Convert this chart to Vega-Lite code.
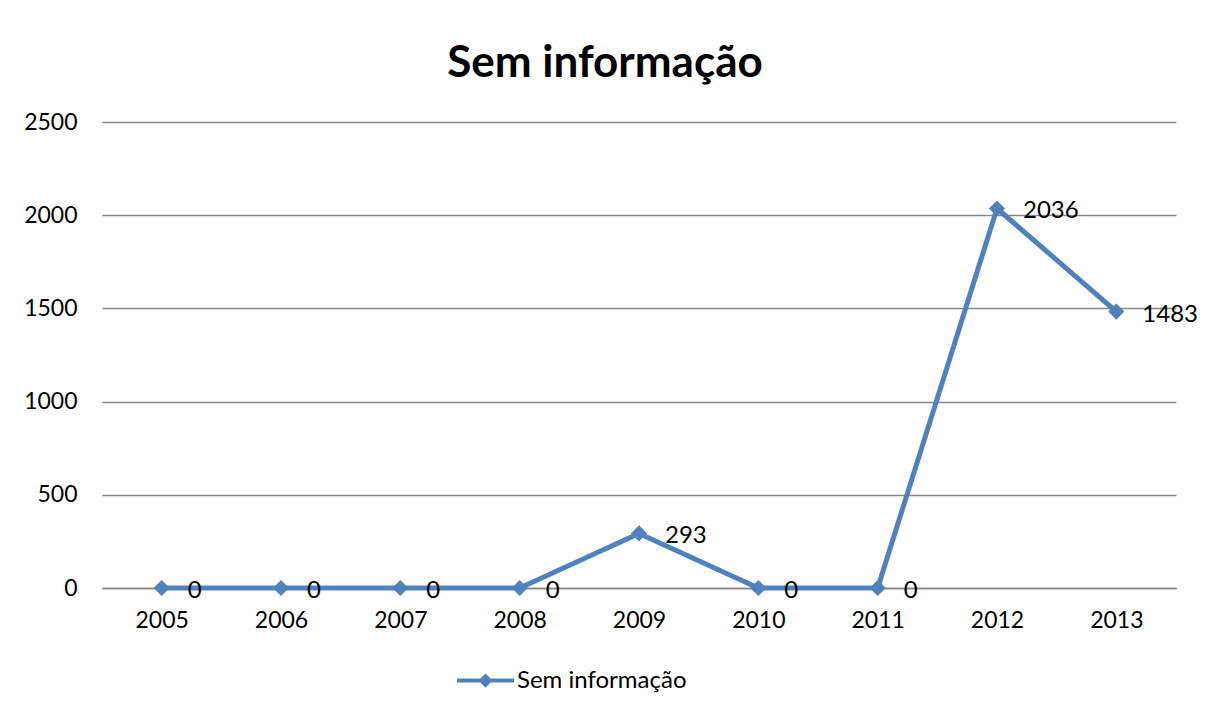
{
  "$schema": "https://vega.github.io/schema/vega-lite/v6.json",
  "width": 1074,
  "height": 466,
  "autosize": "none",
  "padding": {"left": 102, "top": 122, "right": 30, "bottom": 123},
  "background": "white",
  "config": {"font": "Lato", "view": {"stroke": null}},
  "title": {"text": "Sem informação", "fontSize": 44, "fontWeight": "bold", "font": "Lato", "color": "#000000", "anchor": "middle", "dx": -34, "offset": 25},
  "data": {"values": [
    {"ano": "2005", "valor": 0, "serie": "Sem informação"},
    {"ano": "2006", "valor": 0, "serie": "Sem informação"},
    {"ano": "2007", "valor": 0, "serie": "Sem informação"},
    {"ano": "2008", "valor": 0, "serie": "Sem informação"},
    {"ano": "2009", "valor": 293, "serie": "Sem informação"},
    {"ano": "2010", "valor": 0, "serie": "Sem informação"},
    {"ano": "2011", "valor": 0, "serie": "Sem informação"},
    {"ano": "2012", "valor": 2036, "serie": "Sem informação"},
    {"ano": "2013", "valor": 1483, "serie": "Sem informação"}
  ]},
  "encoding": {
    "x": {"field": "ano", "type": "ordinal", "scale": {"type": "point", "padding": 0.5},
      "axis": {"title": null, "labelAngle": 0, "labelFontSize": 23, "labelColor": "#000000", "labelPadding": 21, "domain": true, "domainColor": "#868686", "domainWidth": 1.5, "ticks": false, "grid": false}},
    "y": {"field": "valor", "type": "quantitative", "scale": {"domain": [0, 2500], "nice": false},
      "axis": {"title": null, "values": [0, 500, 1000, 1500, 2000, 2500], "format": "d", "labelFontSize": 23, "labelColor": "#000000", "labelPadding": 25, "domain": false, "ticks": false, "grid": true, "gridColor": "#868686", "gridWidth": 1.5}}
  },
  "layer": [
    {"mark": {"type": "line", "color": "#4F81BD", "strokeWidth": 5,
      "point": {"shape": "diamond", "size": 260, "filled": true, "color": "#4F81BD", "opacity": 1}},
      "encoding": {"color": {"field": "serie", "type": "nominal", "scale": {"range": ["#4F81BD"]},
        "legend": {"title": null, "orient": "none", "legendX": 355, "legendY": 530, "labelFontSize": 24, "labelLimit": 500, "labelColor": "#000000", "labelOffset": 3,
          "symbolType": "M -1 -0.07 L 1 -0.07 L 1 0.07 L -1 0.07 Z M -0.25 0 L 0 -0.25 L 0.25 0 L 0 0.25 Z", "symbolSize": 3249, "symbolFillColor": "#4F81BD", "symbolStrokeWidth": 0}}}},
    {"mark": {"type": "text", "align": "left", "baseline": "middle", "dx": 26, "dy": 3, "fontSize": 24, "color": "#000000"},
      "encoding": {"text": {"field": "valor", "type": "quantitative"}}}
  ]
}
